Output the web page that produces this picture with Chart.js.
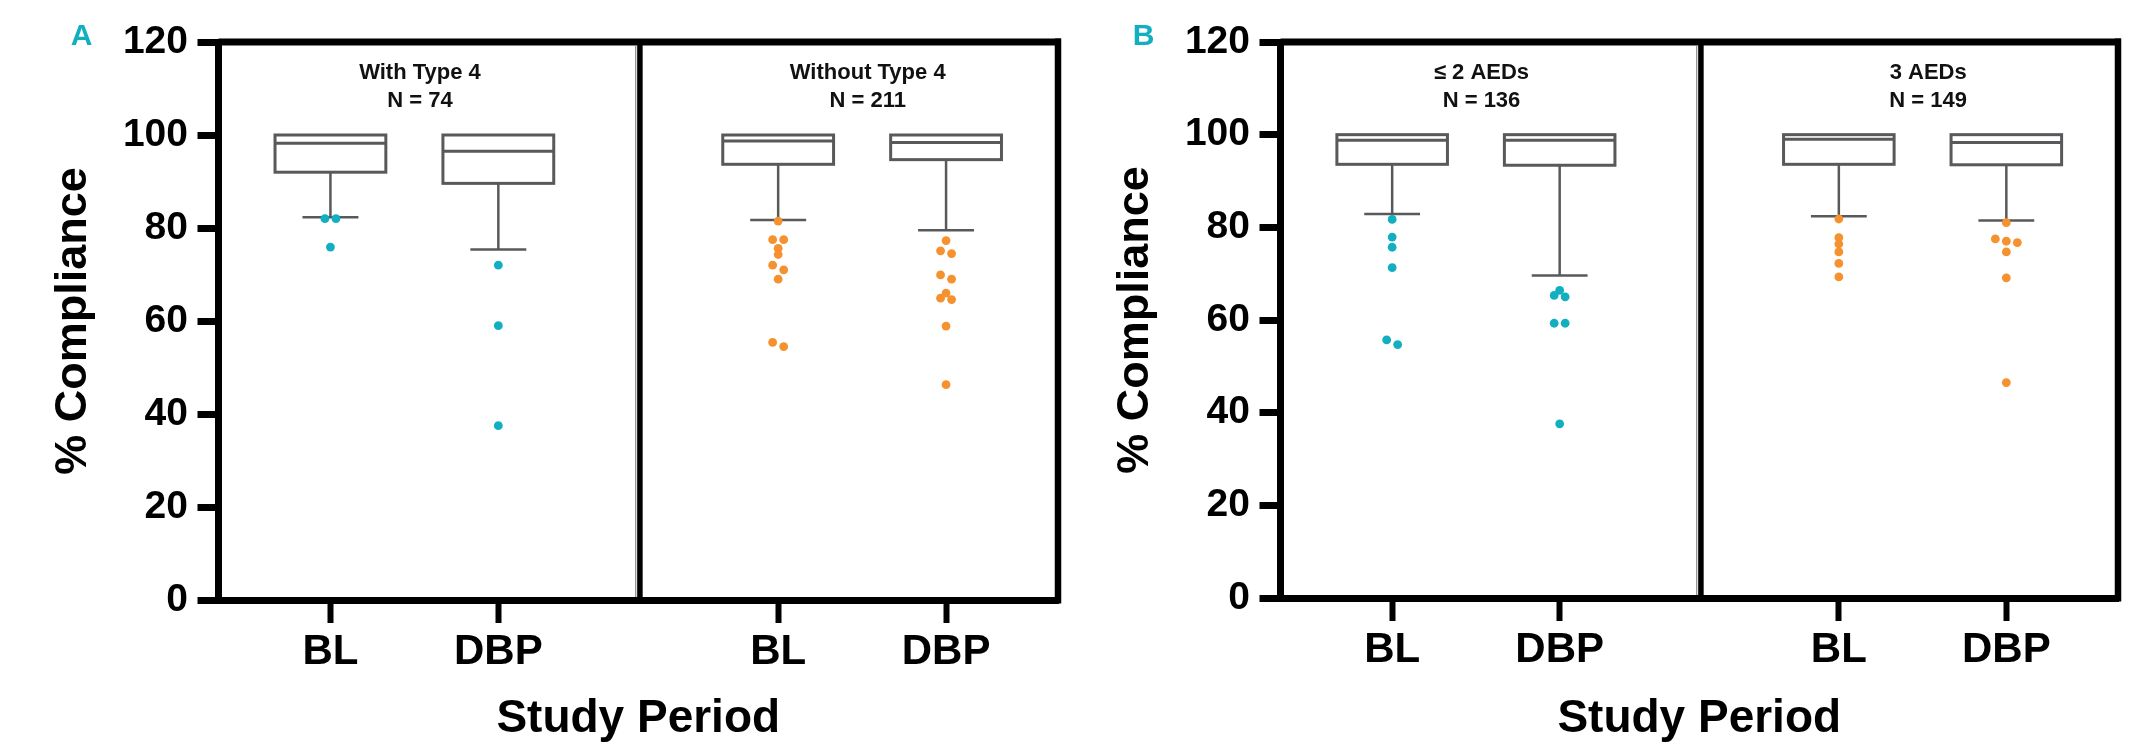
<!DOCTYPE html>
<html lang="en">
<head>
<meta charset="utf-8">
<title>% Compliance by study period</title>
<script src="https://cdn.jsdelivr.net/npm/chart.js@4.4.1/dist/chart.umd.min.js"></script>
<style>
  body { margin: 0; background: #fff; width: 2131px; height: 747px; overflow: hidden; position: relative; }
  .panel { position: absolute; top: 0; height: 747px; }
</style>
</head>
<body>
<div class="panel" style="left:0; width:1066px"><canvas id="panelA" width="1066" height="747"></canvas></div>
<div class="panel" style="left:1062px; width:1069px"><canvas id="panelB" width="1069" height="747"></canvas></div>

<script>
// ---- data ----
const periods = ['BL', 'DBP', 'BL', 'DBP'];

// panel A : with / without type 4
const titlesA = [['With Type 4', 'N = 74'], ['Without Type 4', 'N = 211']];
const lowA    = [82.3, 75.4, 81.7, 79.5];
const q1A     = [92.0, 89.6, 93.7, 94.7];
const medianA = [98.2, 96.5, 98.7, 98.4];
const q3A     = [100, 100, 100, 100];
const highA   = [100, 100, 100, 100];
const outliersA = [
  [82.0, 82.0, 75.9],
  [72.0, 59.0, 37.5],
  [81.5, 77.5, 77.5, 75.6, 74.3, 72.0, 71.0, 69.0, 55.4, 54.5],
  [77.3, 75.1, 74.5, 69.9, 69.0, 66.0, 64.9, 64.6, 58.9, 46.3]
];

// panel B : <=2 AEDs / 3 AEDs
const titlesB = [['≤ 2 AEDs', 'N = 136'], ['3 AEDs', 'N = 149']];
const lowB    = [82.9, 69.6, 82.4, 81.5];
const q1B     = [93.6, 93.4, 93.6, 93.5];
const medianB = [98.8, 98.8, 99.0, 98.3];
const q3B     = [100, 100, 100, 100];
const highB   = [100, 100, 100, 100];
const outliersB = [
  [81.7, 77.9, 75.7, 71.3, 55.7, 54.7],
  [66.4, 65.3, 65.0, 59.3, 59.3, 37.6],
  [81.8, 77.8, 76.4, 74.7, 72.2, 69.3],
  [81.0, 77.5, 77.0, 76.7, 74.7, 69.1, 46.5]
];

// ---- layout / style ----
const slotX = [2, 5, 10, 13];      // x position of each box on a 0..15 axis
const X_MAX = 15;
const DIVIDER_X = 7.53;
const BOX_HALF = 0.99;
const CAP_HALF = 0.5;
const DOT_STEP = 0.197;
const FONT = '"Liberation Sans", Arial, Helvetica, sans-serif';
const TEAL = '#12afc1';
const ORANGE = '#f6912f';
const BOX_COLOR = '#58595b';
const dotColors = [TEAL, TEAL, ORANGE, ORANGE];

// simple swarm: near-equal values share a row, spread symmetrically
function swarm(values, center) {
  const sorted = values.slice().sort((a, b) => b - a);
  const rows = [];
  sorted.forEach(v => {
    const row = rows[rows.length - 1];
    if (row && row[0] - v <= 1.05) row.push(v);
    else rows.push([v]);
  });
  const pts = [];
  rows.forEach(row => row.forEach((v, i) => {
    pts.push({x: center + (i - (row.length - 1) / 2) * DOT_STEP, y: v});
  }));
  return pts;
}

function seg(ctx, x1, y1, x2, y2) {
  ctx.beginPath();
  ctx.moveTo(x1, y1);
  ctx.lineTo(x2, y2);
  ctx.stroke();
}

const boxPlugin = {
  id: 'boxes',
  beforeDatasetsDraw(chart, args, o) {
    const {ctx} = chart;
    const x = chart.scales.x, y = chart.scales.y;
    ctx.save();
    ctx.strokeStyle = BOX_COLOR;
    o.q1.forEach((q1, i) => {
      const c = slotX[i];
      const cx = x.getPixelForValue(c);
      const l = x.getPixelForValue(c - BOX_HALF), r = x.getPixelForValue(c + BOX_HALF);
      const cl = x.getPixelForValue(c - CAP_HALF), cr = x.getPixelForValue(c + CAP_HALF);
      const top = y.getPixelForValue(o.q3[i]), bot = y.getPixelForValue(q1);
      const med = y.getPixelForValue(o.median[i]);
      const low = y.getPixelForValue(o.low[i]), high = y.getPixelForValue(o.high[i]);
      ctx.lineWidth = 2.5;
      seg(ctx, cx, bot, cx, low);
      seg(ctx, cl, low, cr, low);
      if (o.high[i] > o.q3[i]) {
        seg(ctx, cx, top, cx, high);
        seg(ctx, cl, high, cr, high);
      }
      ctx.lineWidth = 3;
      ctx.fillStyle = '#fff';
      ctx.fillRect(l, top, r - l, bot - top);
      ctx.strokeRect(l, top, r - l, bot - top);
      seg(ctx, l, med, r, med);
    });
    ctx.restore();
  },
  afterDraw(chart, args, o) {
    const {ctx, chartArea: a} = chart;
    const x = chart.scales.x;
    ctx.save();
    ctx.strokeStyle = '#000';
    // top and right frame
    ctx.lineWidth = 7;
    seg(ctx, a.left, a.top, a.right + 3, a.top);
    ctx.lineWidth = 6.5;
    seg(ctx, a.right, a.top - 3.5, a.right, a.bottom + 3.5);
    // divider between the two sub groups
    const dx = x.getPixelForValue(DIVIDER_X);
    ctx.lineWidth = 5.5;
    seg(ctx, dx, a.top, dx, a.bottom);
    ctx.strokeStyle = '#8a8a8a';
    ctx.lineWidth = 1.2;
    seg(ctx, dx - 4.2, a.top + 3, dx - 4.2, a.bottom - 3);
    // sub group titles
    ctx.fillStyle = '#111';
    ctx.font = 'bold 22px ' + FONT;
    ctx.textAlign = 'center';
    ctx.textBaseline = 'middle';
    o.titles.forEach((t, k) => {
      const tx = x.getPixelForValue(k === 0 ? 3.6 : 11.6);
      ctx.fillText(t[0], tx, a.top + 31);
      ctx.fillText(t[1], tx, a.top + 59);
    });
    // panel letter
    ctx.fillStyle = TEAL;
    ctx.font = 'bold 30px ' + FONT;
    ctx.fillText(o.letter, a.left - 137, 37);
    ctx.restore();
  }
};

function makePanel(id, letter, titles, low, q1, median, q3, high, outliers, rightPad, xHeight) {
  const datasets = outliers.map((vals, i) => ({
    data: swarm(vals, slotX[i]),
    backgroundColor: dotColors[i],
    borderWidth: 0,
    pointRadius: 4.4,
    pointHoverRadius: 4.4
  }));
  new Chart(document.getElementById(id), {
    type: 'scatter',
    data: {datasets: datasets},
    plugins: [boxPlugin],
    options: {
      responsive: false,
      animation: false,
      devicePixelRatio: 1,
      layout: {padding: {left: 0, top: 42, right: rightPad, bottom: 0}},
      plugins: {
        legend: {display: false},
        tooltip: {enabled: false},
        boxes: {letter: letter, titles: titles, low: low, q1: q1, median: median, q3: q3, high: high}
      },
      scales: {
        x: {
          type: 'linear',
          min: 0,
          max: X_MAX,
          afterBuildTicks: s => { s.ticks = slotX.map(v => ({value: v})); },
          afterFit: s => { s.height = xHeight; },
          ticks: {
            autoSkip: false,
            maxRotation: 0,
            padding: 4,
            color: '#000',
            font: {family: FONT, size: 42, weight: 'bold'},
            callback: (v, i) => periods[i]
          },
          grid: {drawOnChartArea: false, drawTicks: true, tickLength: 23, tickWidth: 6, tickColor: '#000'},
          border: {display: true, width: 7, color: '#000'},
          title: {
            display: true,
            text: 'Study Period',
            color: '#000',
            font: {family: FONT, size: 46, weight: 'bold'},
            padding: {top: 0, bottom: 0}
          }
        },
        y: {
          min: 0,
          max: 120,
          afterFit: s => { s.width = 218.5; },
          ticks: {
            stepSize: 20,
            padding: 9.5,
            color: '#000',
            font: {family: FONT, size: 39, weight: 'bold'}
          },
          grid: {drawOnChartArea: false, drawTicks: true, tickLength: 21, tickWidth: 7, tickColor: '#000'},
          border: {display: true, width: 7, color: '#000'},
          title: {
            display: true,
            text: '% Compliance',
            color: '#000',
            font: {family: FONT, size: 45, weight: 'bold'},
            padding: {top: 47, bottom: 0}
          }
        }
      }
    }
  });
}

makePanel('panelA', 'A', titlesA, lowA, q1A, medianA, q3A, highA, outliersA, 8, 147);
makePanel('panelB', 'B', titlesB, lowB, q1B, medianB, q3B, highB, outliersB, 13, 149);
</script>
</body>
</html>
